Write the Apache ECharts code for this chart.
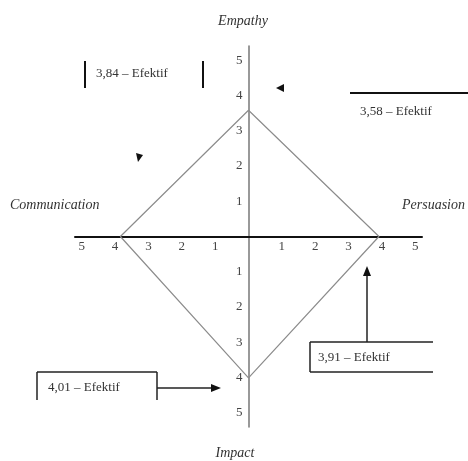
<!DOCTYPE html>
<html>
<head>
<meta charset="utf-8">
<script src="https://cdn.jsdelivr.net/npm/echarts@6/dist/echarts.min.js"></script>
<style>
  html, body { margin: 0; padding: 0; background: #fff; }
  #main { width: 468px; height: 461px; }
</style>
</head>
<body>
<div id="main"></div>
<script>
// EPIC model scores: Empathy (top), Persuasion (right), Impact (bottom), Communication (left)
const dimensions = ['Empathy', 'Persuasion', 'Impact', 'Communication'];
const scores = [3.58, 3.91, 4.01, 3.84];
const notes = ['3,58 – Efektif', '3,91 – Efektif', '4,01 – Efektif', '3,84 – Efektif'];

const chart = echarts.init(document.getElementById('main'), null, { renderer: 'canvas' });

// diamond corners, going round from the top
const diamond = [
  [0, scores[0]],
  [scores[1], 0],
  [0, -scores[2]],
  [-scores[3], 0],
  [0, scores[0]]
];

const serif = '"Liberation Serif", "DejaVu Serif", serif';

// grid box; axes are pulled in to cross at the origin
const G = { left: 75, right: 46, top: 46, bottom: 34 };
const W = 468, H = 461;
const xRange = [-5.2, 5.2];
const yRange = [-5.4, 5.4];
const gw = W - G.left - G.right, gh = H - G.top - G.bottom;
const xZero = gw * (0 - xRange[0]) / (xRange[1] - xRange[0]);  // px from grid left
const yZero = gh * (yRange[1] - 0) / (yRange[1] - yRange[0]);  // px from grid top

function tickLabel(v) {
  const r = Math.round(v);
  return Math.abs(v - r) < 1e-6 && r !== 0 ? String(Math.abs(r)) : '';
}

function txt(x, y, s, font, align) {
  return {
    type: 'text',
    x: x,
    y: y,
    style: {
      text: s,
      font: font || '13px ' + serif,
      fill: '#333',
      align: align || 'left',
      verticalAlign: 'middle'
    }
  };
}

function seg(x1, y1, x2, y2, color, w) {
  return {
    type: 'line',
    shape: { x1: x1, y1: y1, x2: x2, y2: y2 },
    style: { stroke: color || '#111', lineWidth: w || 1.5 }
  };
}

function tri(points) {
  return { type: 'polygon', shape: { points: points }, style: { fill: '#111' } };
}

const italic = 'italic 14px ' + serif;

const option = {
  backgroundColor: '#ffffff',
  animation: false,
  grid: G,
  xAxis: {
    type: 'value',
    min: xRange[0],
    max: xRange[1],
    interval: 0.2,
    offset: -(gh - yZero),
    splitLine: { show: false },
    axisTick: { show: false },
    axisLine: { onZero: false, lineStyle: { color: '#111', width: 2 } },
    axisLabel: {
      formatter: tickLabel,
      margin: 4,
      color: '#444',
      fontFamily: serif,
      fontSize: 13
    }
  },
  yAxis: {
    type: 'value',
    min: yRange[0],
    max: yRange[1],
    interval: 0.2,
    offset: -xZero,
    splitLine: { show: false },
    axisTick: { show: false },
    axisLine: { onZero: false, lineStyle: { color: '#777', width: 1.5 } },
    axisLabel: {
      formatter: tickLabel,
      margin: 6,
      color: '#444',
      fontFamily: serif,
      fontSize: 13
    }
  },
  series: [{
    type: 'line',
    data: diamond,
    symbol: 'none',
    lineStyle: { color: '#8c8c8c', width: 1.2 },
    z: 1
  }],
  graphic: [
    // dimension names
    txt(243, 21, dimensions[0], italic, 'center'),
    txt(465, 205, dimensions[1], italic, 'right'),
    txt(235, 453, dimensions[2], italic, 'center'),
    txt(10, 205, dimensions[3], italic, 'left'),

    // Communication note (top left)
    seg(85, 61, 85, 88, '#111', 2),
    seg(203, 61, 203, 88, '#111', 2),
    txt(96, 74, notes[3]),
    tri([[136, 153], [143, 155], [138, 162]]),

    // Empathy note (top right)
    seg(350, 93, 468, 93, '#111', 2),
    txt(360, 112, notes[0]),
    tri([[276, 88], [284, 84], [284, 92]]),

    // Persuasion note (lower right)
    seg(310, 342, 433, 342, '#222', 1.5),
    seg(310, 372, 433, 372, '#222', 1.5),
    seg(310, 342, 310, 372, '#222', 1.5),
    txt(318, 358, notes[1]),
    seg(367, 342, 367, 274, '#222', 1.5),
    tri([[367, 266], [363, 276], [371, 276]]),

    // Impact note (lower left)
    seg(37, 372, 157, 372, '#222', 1.5),
    seg(37, 372, 37, 400, '#222', 1.5),
    seg(157, 372, 157, 400, '#222', 1.5),
    txt(48, 388, notes[2]),
    seg(157, 388, 212, 388, '#222', 1.5),
    tri([[221, 388], [211, 384], [211, 392]])
  ]
};

chart.setOption(option);
</script>
</body>
</html>
